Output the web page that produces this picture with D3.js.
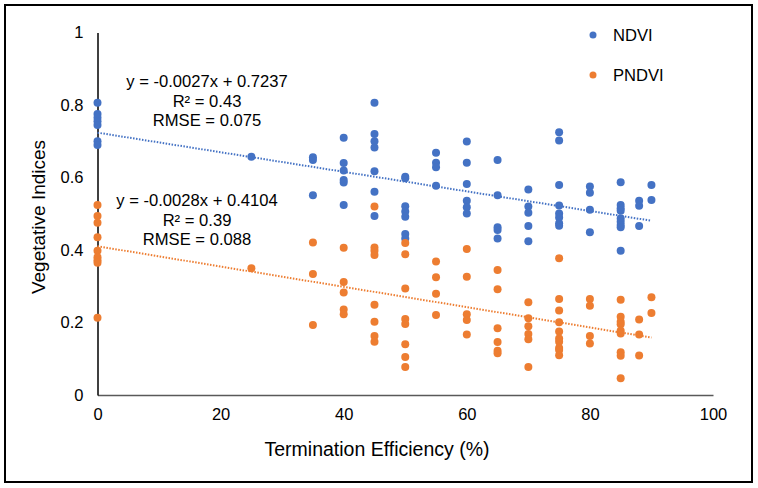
<!DOCTYPE html>
<html><head><meta charset="utf-8">
<script src="https://cdn.jsdelivr.net/npm/d3@7"></script>
<style>body{margin:0;background:#fff}svg{display:block}text{font-family:"Liberation Sans",Arial,sans-serif;fill:#000}</style>
</head><body>
<svg id="c" width="758" height="488"></svg>
<script>
const ndviX = [0,0,0,0,0,0,0, 25, 35,35,35, 40,40,40,40,40,40, 45,45,45,45,45,45,45, 50,50,50,50,50,50,50, 55,55,55,55, 60,60,60,60,60,60, 65,65,65,65,65, 70,70,70,70,70, 75,75,75,75,75,75,75,75, 80,80,80,80, 85,85,85,85,85,85,85,85,85, 88,88,88, 90,90];
const ndviY = [0.806,0.775,0.765,0.755,0.745,0.700,0.690, 0.657, 0.656,0.648,0.551, 0.710,0.640,0.619,0.593,0.586,0.524, 0.806,0.720,0.700,0.683,0.617,0.561,0.494, 0.602,0.598,0.521,0.506,0.492,0.444,0.432, 0.668,0.641,0.628,0.577, 0.699,0.641,0.582,0.536,0.518,0.501, 0.648,0.551,0.463,0.455,0.432, 0.567,0.520,0.503,0.466,0.424, 0.725,0.702,0.579,0.523,0.501,0.490,0.474,0.467, 0.575,0.558,0.511,0.449, 0.587,0.524,0.515,0.508,0.487,0.478,0.469,0.463,0.398, 0.536,0.522,0.466, 0.579,0.538];
const pndviX = [0,0,0,0,0,0,0,0,0, 25, 35,35,35, 40,40,40,40,40, 45,45,45,45,45,45,45,45, 50,50,50,50,50,50,50,50, 55,55,55,55, 60,60,60,60,60, 65,65,65,65,65,65, 70,70,70,70,70,70, 75,75,75,75,75,75,75,75,75,75, 80,80,80,80, 85,85,85,85,85,85,85,85,85, 88,88,88, 90,90];
const pndviY = [0.524,0.494,0.475,0.435,0.398,0.380,0.372,0.365,0.213, 0.350, 0.421,0.334,0.193, 0.406,0.312,0.283,0.236,0.223, 0.520,0.407,0.398,0.386,0.249,0.202,0.163,0.147, 0.419,0.388,0.294,0.210,0.196,0.140,0.105,0.077, 0.368,0.325,0.279,0.221, 0.403,0.326,0.223,0.207,0.167, 0.345,0.292,0.184,0.146,0.122,0.115, 0.256,0.212,0.190,0.168,0.154,0.077, 0.377,0.265,0.233,0.201,0.175,0.156,0.147,0.130,0.124,0.110, 0.265,0.246,0.163,0.142, 0.263,0.216,0.202,0.195,0.177,0.170,0.118,0.108,0.046, 0.208,0.167,0.109, 0.270,0.226];
const xTicks = [0,20,40,60,80,100];
const yTicks = [0,0.2,0.4,0.6,0.8,1];
const yTickLabels = ["0","0.2","0.4","0.6","0.8","1"];
const seriesNames = ["NDVI","PNDVI"];
const colors = ["#4472C4","#ED7D31"];
const fits = [{slope:-0.0027, intercept:0.7237, xMax:90, lines:["y = -0.0027x + 0.7237","R² = 0.43","RMSE = 0.075"]},
              {slope:-0.0028, intercept:0.4104, xMax:90, lines:["y = -0.0028x + 0.4104","R² = 0.39","RMSE = 0.088"]}];

const svg = d3.select("#c");
svg.append("rect").attr("x",5).attr("y",5).attr("width",747).attr("height",477)
  .attr("fill","#fff").attr("stroke","#000").attr("stroke-width",2);

const x = d3.scaleLinear().domain([0,100]).range([97.5,713]);
const y = d3.scaleLinear().domain([0,1]).range([395,32.5]);

// x axis
const gx = svg.append("g").attr("transform","translate(0,395)")
  .call(d3.axisBottom(x).tickValues(xTicks).tickSize(0).tickPadding(13).tickFormat(d3.format("d")));
gx.select(".domain").attr("stroke","#595959").attr("stroke-width",1.5);
gx.selectAll("text").attr("font-size",16.5).attr("font-family","Liberation Sans, Arial, sans-serif").attr("fill","#000");

// y axis
const gy = svg.append("g").attr("transform","translate(97.5,0)")
  .call(d3.axisLeft(y).tickValues(yTicks).tickSize(0).tickPadding(14).tickFormat((d,i)=>yTickLabels[i]));
gy.select(".domain").attr("stroke","#000").attr("stroke-width",1.5);
gy.selectAll("text").attr("font-size",16.5).attr("font-family","Liberation Sans, Arial, sans-serif").attr("fill","#000");

// titles
svg.append("text").attr("x",377).attr("y",456).attr("text-anchor","middle").attr("font-size",19.5).text("Termination Efficiency (%)");
svg.append("text").attr("transform","translate(45,217) rotate(-90)").attr("text-anchor","middle").attr("font-size",19).text("Vegetative Indices");

// trendlines
fits.forEach((f,i)=>{
  svg.append("line").attr("x1",x(0)).attr("y1",y(f.intercept))
    .attr("x2",x(f.xMax)).attr("y2",y(f.intercept+f.slope*f.xMax))
    .attr("stroke",colors[i]).attr("stroke-width",2).attr("stroke-dasharray","1.5,1.5");
});

// points
const sets = [[ndviX,ndviY],[pndviX,pndviY]];
sets.forEach((s,i)=>{
  svg.append("g").selectAll("circle").data(s[0].map((v,j)=>[v,s[1][j]])).join("circle")
    .attr("cx",d=>x(d[0])).attr("cy",d=>y(d[1])).attr("r",4).attr("fill",colors[i]);
});

// annotations
const annPos = [[207,[87,107,126]],[197,[206,226,245]]];
fits.forEach((f,i)=>{
  f.lines.forEach((t,k)=>{
    svg.append("text").attr("x",annPos[i][0]).attr("y",annPos[i][1][k]).attr("text-anchor","middle")
      .attr("font-size",16.6).text(t);
  });
});

// legend
const legY = [35,75];
seriesNames.forEach((n,i)=>{
  svg.append("circle").attr("cx",593).attr("cy",legY[i]).attr("r",3.5).attr("fill",colors[i]);
  svg.append("text").attr("x",613).attr("y",legY[i]).attr("dy","0.35em").attr("font-size",16.6).text(n);
});
</script>
</body></html>
